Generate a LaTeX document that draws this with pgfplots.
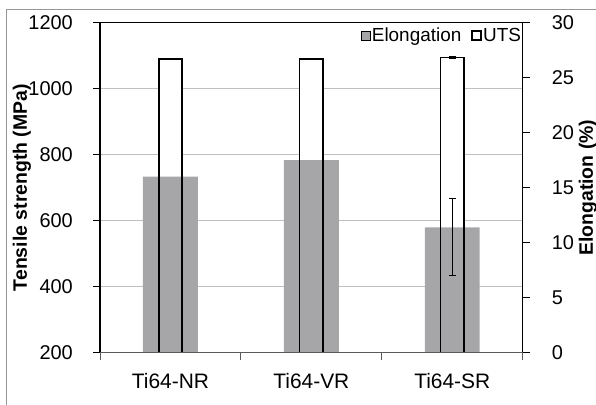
\documentclass[border=0pt]{standalone}
\usepackage{fontspec}
\setmainfont{Liberation Sans}
\usepackage{pgfplots}
\pgfplotsset{compat=1.18}

\definecolor{elgrey}{RGB}{166,166,168}
\definecolor{gridgrey}{RGB}{192,192,192}
\definecolor{framegrey}{RGB}{150,150,150}
\definecolor{xaxisgrey}{RGB}{90,90,90}

\newcommand{\tickfont}{\fontsize{20}{22}\selectfont}
\newcommand{\catfont}{\fontsize{21}{23}\selectfont}

\pgfplotsset{
  base/.style={
    scale only axis, width=422.7bp, height=330bp,
    at={(100bp,52.3bp)}, anchor=south west,
    xmin=-0.5, xmax=2.5, clip=false,
    axis line style={draw=none},
    /pgf/number format/assume math mode=true,
    /pgf/number format/1000 sep={},
    label style={font=\bfseries\fontsize{19.5}{23}\selectfont},
    tick align=outside, major tick length=7bp,
  },
}

\begin{document}
\begin{tikzpicture}
% left axis: UTS fill, grid, x axis
\begin{axis}[base,
  ymin=200, ymax=1200, ytick={200,400,...,1200},
  ytick pos=left, xtick pos=bottom,
  ymajorgrids, grid style={gridgrey, line width=1bp},
  xtick={-0.5,0.5,1.5,2.5}, xticklabels={},
  x tick style={xaxisgrey, line width=1bp},
  y tick style={black, line width=1bp},
  extra x ticks={0,1,2},
  extra x tick labels={Ti64-NR,Ti64-VR,Ti64-SR},
  extra x tick style={major tick length=0pt, grid=none},
  xticklabel style={font=\catfont, inner sep=0pt, yshift=-20bp},
  yticklabel style={font=\tickfont, inner sep=0pt, xshift=-20bp},
  ylabel={Tensile strength (MPa)},
  ylabel style={at={(axis description cs:-0.1845,0.5)}, anchor=center},
  bar width=0.165,
]
\addplot[ybar, fill=white, draw=none] coordinates {(0,1090) (1,1090) (2,1094)};
\end{axis}
% right axis: elongation
\begin{axis}[base,
  ymin=0, ymax=30, ytick={0,5,...,30},
  ytick pos=right, yticklabel pos=right, xtick=\empty,
  y tick style={black, line width=1bp},
  yticklabel style={font=\tickfont, inner sep=0pt, xshift=22bp},
  ylabel={Elongation (\%)},
  ylabel style={at={(axis description cs:1.1545,0.5)}, anchor=center, rotate=0},
  bar width=0.39,
]
\addplot[ybar, fill=elgrey, draw=none] coordinates {(0,16.0) (1,17.5) (2,11.4)};
\addplot[draw=none, mark=none, forget plot,
  error bars/.cd, y dir=both, y explicit,
  error bar style={draw=black, line width=0.9bp},
  error mark options={draw=black, rotate=90, mark size=3.5bp, line width=0.9bp}]
  coordinates {(2,11.4) += (0,2.6) -= (0,4.4)};
\end{axis}
% overlay: UTS outlines, legend, frame lines
\begin{axis}[base,
  ymin=200, ymax=1200, hide axis,
  bar width=0.165,
  legend style={at={(rel axis cs:1,0.99)}, anchor=north east, draw=none, fill=none,
    legend columns=2, font=\fontsize{19}{21}\selectfont,
    /tikz/every odd column/.append style={column sep=0bp},
    /tikz/every even column/.append style={column sep=3bp},
    inner sep=0.5bp, nodes={inner sep=1bp}},
  legend image code/.code={\path (0bp,0bp); \draw[#1] (6bp,-4.5bp) rectangle (15bp,4.5bp);},
]
\addlegendimage{fill=elgrey, draw=none}
\addlegendimage{fill=white, draw=black, line width=1.8bp}
\addplot[ybar, fill=none, draw=black, line width=1.4bp,
  error bars/.cd, y dir=both, y explicit,
  error bar style={draw=black, line width=0.9bp},
  error mark options={draw=black, rotate=90, mark size=3.5bp, line width=0.9bp}]
  coordinates {(0,1090) (1,1090) (2,1094) +- (0,3)};
\legend{Elongation,UTS}
\draw[black, line width=1.3bp] (rel axis cs:0,0) -- (rel axis cs:0,1) -- (rel axis cs:1,1) -- (rel axis cs:1,0);
\draw[xaxisgrey, line width=1.2bp] (rel axis cs:0,0) -- (rel axis cs:1,0);
\end{axis}
\draw[framegrey, line width=1bp] (6.7bp,-10bp) -- (6.7bp,395.7bp) -- (620bp,395.7bp);
\pgfresetboundingbox
\useasboundingbox (0,0) rectangle (596bp,405bp);
\end{tikzpicture}
\end{document}
